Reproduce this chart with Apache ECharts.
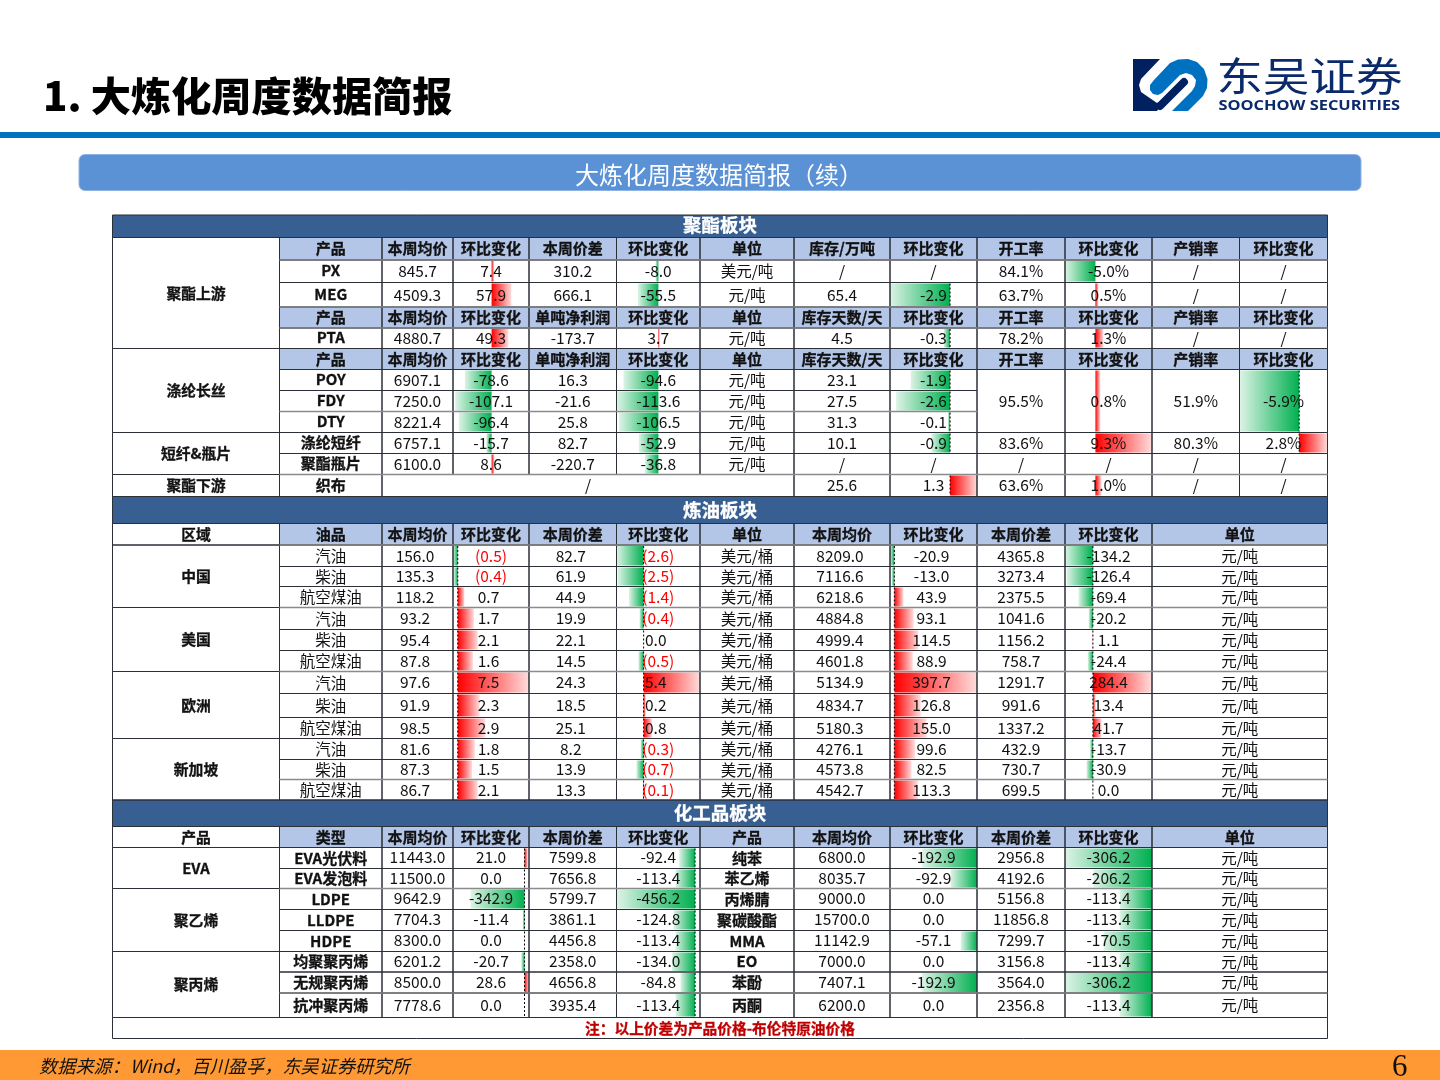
<!DOCTYPE html>
<html>
<head>
<meta charset="utf-8">
<title>大炼化周度数据简报</title>
<script src="https://cdn.jsdelivr.net/npm/echarts@6/dist/echarts.min.js"></script>
<style>
  html, body { margin: 0; padding: 0; background: #fff; }
  #main { width: 1440px; height: 1080px; }
</style>
</head>
<body>
<div id="main"></div>
<script>
// 聚酯板块
var polyProducts = ['PX', 'MEG', 'PTA', 'POY', 'FDY', 'DTY', '涤纶短纤', '聚酯瓶片', '织布'];
var polyPrice = [845.7, 4509.3, 4880.7, 6907.1, 7250.0, 8221.4, 6757.1, 6100.0, null];
var polyPriceChg = [7.4, 57.9, 49.3, -78.6, -107.1, -96.4, -15.7, 8.6, null];
var polySpread = [310.2, 666.1, -173.7, 16.3, -21.6, 25.8, 82.7, -220.7, null];
var polySpreadChg = [-8.0, -55.5, 3.7, -94.6, -113.6, -106.5, -52.9, -36.8, null];
var polyUnit = ['美元/吨', '元/吨', '元/吨', '元/吨', '元/吨', '元/吨', '元/吨', '元/吨', null];
var polyStock = [null, 65.4, 4.5, 23.1, 27.5, 31.3, 10.1, null, 25.6];
var polyStockChg = [null, -2.9, -0.3, -1.9, -2.6, -0.1, -0.9, null, 1.3];
// POY/FDY/DTY 三行合并为一格
var polyRate = [84.1, 63.7, 78.2, 95.5, 83.6, null, 63.6];
var polyRateChg = [-5.0, 0.5, 1.3, 0.8, 9.3, null, 1.0];
var polySell = [null, null, null, 51.9, 80.3, null, null];
var polySellChg = [null, null, null, -5.9, 2.8, null, null];

// 炼油板块
var oilRegions = ['中国', '美国', '欧洲', '新加坡'];
var oilTypes = ['汽油', '柴油', '航空煤油'];
var oilPrice = [156.0, 135.3, 118.2, 93.2, 95.4, 87.8, 97.6, 91.9, 98.5, 81.6, 87.3, 86.7];
var oilPriceChg = [-0.5, -0.4, 0.7, 1.7, 2.1, 1.6, 7.5, 2.3, 2.9, 1.8, 1.5, 2.1];
var oilSpread = [82.7, 61.9, 44.9, 19.9, 22.1, 14.5, 24.3, 18.5, 25.1, 8.2, 13.9, 13.3];
var oilSpreadChg = [-2.6, -2.5, -1.4, -0.4, 0.0, -0.5, 5.4, 0.2, 0.8, -0.3, -0.7, -0.1];
var oilRmb = [8209.0, 7116.6, 6218.6, 4884.8, 4999.4, 4601.8, 5134.9, 4834.7, 5180.3, 4276.1, 4573.8, 4542.7];
var oilRmbChg = [-20.9, -13.0, 43.9, 93.1, 114.5, 88.9, 397.7, 126.8, 155.0, 99.6, 82.5, 113.3];
var oilRmbSpread = [4365.8, 3273.4, 2375.5, 1041.6, 1156.2, 758.7, 1291.7, 991.6, 1337.2, 432.9, 730.7, 699.5];
var oilRmbSpreadChg = [-134.2, -126.4, -69.4, -20.2, 1.1, -24.4, 284.4, 13.4, 41.7, -13.7, -30.9, 0.0];

// 化工品板块
var chemGroups = ['EVA', '聚乙烯', '聚丙烯'];
var chemTypes = ['EVA光伏料', 'EVA发泡料', 'LDPE', 'LLDPE', 'HDPE', '均聚聚丙烯', '无规聚丙烯', '抗冲聚丙烯'];
var chemPrice = [11443.0, 11500.0, 9642.9, 7704.3, 8300.0, 6201.2, 8500.0, 7778.6];
var chemPriceChg = [21.0, 0.0, -342.9, -11.4, 0.0, -20.7, 28.6, 0.0];
var chemSpread = [7599.8, 7656.8, 5799.7, 3861.1, 4456.8, 2358.0, 4656.8, 3935.4];
var chemSpreadChg = [-92.4, -113.4, -456.2, -124.8, -113.4, -134.0, -84.8, -113.4];
var chem2Names = ['纯苯', '苯乙烯', '丙烯腈', '聚碳酸酯', 'MMA', 'EO', '苯酚', '丙酮'];
var chem2Price = [6800.0, 8035.7, 9000.0, 15700.0, 11142.9, 7000.0, 7407.1, 6200.0];
var chem2Chg = [-192.9, -92.9, 0.0, 0.0, -57.1, 0.0, -192.9, 0.0];
var chem2Spread = [2956.8, 4192.6, 5156.8, 11856.8, 7299.7, 3156.8, 3564.0, 2356.8];
var chem2SpreadChg = [-306.2, -206.2, -113.4, -113.4, -170.5, -113.4, -306.2, -113.4];

// 表头
var headPoly1 = ['产品', '本周均价', '环比变化', '本周价差', '环比变化', '单位', '库存/万吨', '环比变化', '开工率', '环比变化', '产销率', '环比变化'];
var headPoly2 = ['产品', '本周均价', '环比变化', '单吨净利润', '环比变化', '单位', '库存天数/天', '环比变化', '开工率', '环比变化', '产销率', '环比变化'];
var headOil = ['油品', '本周均价', '环比变化', '本周价差', '环比变化', '单位', '本周均价', '环比变化', '本周价差', '环比变化', '单位'];
var headChem = ['类型', '本周均价', '环比变化', '本周价差', '环比变化', '产品', '本周均价', '环比变化', '本周价差', '环比变化', '单位'];

// 版式
var colEdges = [112.5, 279.5, 382, 453, 529, 616.5, 700, 794, 890, 977, 1065, 1152, 1239.5, 1327.5];
var rowEdges = [215, 237.5, 260, 282.5, 307, 328, 348.5, 369.5, 390.5, 411.5, 432.5, 453.5, 474.5, 496.5,
  523.5, 545, 566.5, 586.5, 607.5, 629.5, 650.5, 671.5, 693.5, 717.5, 738.5, 759.5, 779.5, 800,
  826.5, 847.5, 868.5, 888.5, 909.5, 930.5, 951.5, 972, 993, 1017.5, 1038.5];
// 灰色横线：[行线序号, 结束列]
var greyRules = [[2, 13], [4, 13], [5, 13], [9, 9], [12, 13], [15, 13], [18, 13], [21, 13], [26, 13], [31, 13], [36, 13]];
var polyRowIdx = [2, 3, 5, 7, 8, 9, 10, 11, 12];
var oilStart = 15;
var chemStart = 29;
var CJK = '"Noto Sans CJK SC",sans-serif';
var BAND = '#385F92';
var HEAD = '#B4C6E7';
var LINE = '#2b2f36';
var SECTOR = { bold: true, size: 14.8 };
var ITEM = { bold: true, size: 15 };

var cells = [];
function addCell(c0, c1, r0, r1, text, opt) {
  cells.push(Object.assign({ c0: c0, c1: c1, r0: r0, r1: r1, text: text }, opt || {}));
}
function fmt(v) {
  return v === null ? '/' : v.toFixed(1);
}
function pct(v) {
  return v === null ? '/' : v.toFixed(1) + '%';
}
function addHead(r, list, from) {
  list.forEach(function (t, i) {
    var c = from + i;
    var last = (list.length === 11 && i === 10);
    addCell(c, last ? c + 2 : c + 1, r, r + 1, t, { fill: HEAD, bold: true, size: 15 });
  });
}
function addBand(r, t, dy) {
  addCell(0, 13, r, r + 1, t, { fill: BAND, bold: true, color: '#fff', size: 18.5, dy: dy || 0 });
}

// ---- 聚酯板块 ----
addBand(0, '聚酯板块', -1);
addCell(0, 1, 1, 6, '聚酯上游', SECTOR);
addCell(0, 1, 6, 10, '涤纶长丝', SECTOR);
addCell(0, 1, 10, 12, '短纤&瓶片', SECTOR);
addCell(0, 1, 12, 13, '聚酯下游', SECTOR);
addHead(1, headPoly1, 1);
addHead(4, headPoly2, 1);
addHead(6, headPoly2, 1);
polyProducts.forEach(function (p, i) {
  var r = polyRowIdx[i];
  addCell(1, 2, r, r + 1, p, { bold: true, size: 15, dy: -0.5 });
  if (i === 8) {
    addCell(2, 7, r, r + 1, '/');
  } else {
    addCell(2, 3, r, r + 1, fmt(polyPrice[i]));
    addCell(3, 4, r, r + 1, fmt(polyPriceChg[i]));
    addCell(4, 5, r, r + 1, fmt(polySpread[i]));
    addCell(5, 6, r, r + 1, fmt(polySpreadChg[i]));
    addCell(6, 7, r, r + 1, polyUnit[i]);
  }
  addCell(7, 8, r, r + 1, fmt(polyStock[i]));
  addCell(8, 9, r, r + 1, fmt(polyStockChg[i]));
});
// 开工率、产销率这几列 POY 到 DTY 合并
var polyRateRows = [[2, 3], [3, 4], [5, 6], [7, 10], [10, 11], [11, 12], [12, 13]];
polyRateRows.forEach(function (rr, i) {
  addCell(9, 10, rr[0], rr[1], pct(polyRate[i]));
  addCell(10, 11, rr[0], rr[1], pct(polyRateChg[i]));
  addCell(11, 12, rr[0], rr[1], pct(polySell[i]));
  addCell(12, 13, rr[0], rr[1], pct(polySellChg[i]));
});

// ---- 炼油板块 ----
addBand(13, '炼油板块');
addCell(0, 1, 14, 15, '区域', SECTOR);
addHead(14, headOil, 1);
oilRegions.forEach(function (name, k) {
  addCell(0, 1, oilStart + k * 3, oilStart + k * 3 + 3, name, SECTOR);
});
oilPrice.forEach(function (v, i) {
  var r = oilStart + i;
  addCell(1, 2, r, r + 1, oilTypes[i % 3], { dy: 0.5 });
  addCell(2, 3, r, r + 1, fmt(v), { dx: -2.5 });
  var a = oilPriceChg[i];
  addCell(3, 4, r, r + 1, a < 0 ? '(' + Math.abs(a).toFixed(1) + ')' : fmt(a), a < 0 ? { color: '#FF0000' } : { dx: -2.5 });
  addCell(4, 5, r, r + 1, fmt(oilSpread[i]), { dx: -2 });
  var b = oilSpreadChg[i];
  addCell(5, 6, r, r + 1, b < 0 ? '(' + Math.abs(b).toFixed(1) + ')' : fmt(b), b < 0 ? { color: '#FF0000' } : { dx: -2.5 });
  addCell(6, 7, r, r + 1, '美元/桶', { dy: 0.5 });
  addCell(7, 8, r, r + 1, fmt(oilRmb[i]), { dx: -2 });
  addCell(8, 9, r, r + 1, fmt(oilRmbChg[i]), { dx: -2 });
  addCell(9, 10, r, r + 1, fmt(oilRmbSpread[i]));
  addCell(10, 11, r, r + 1, fmt(oilRmbSpreadChg[i]));
  addCell(11, 13, r, r + 1, '元/吨', { dy: 0.5 });
});

// ---- 化工品板块 ----
addBand(27, '化工品板块');
addCell(0, 1, 28, 29, '产品', SECTOR);
addHead(28, headChem, 1);
addCell(0, 1, 29, 31, chemGroups[0], SECTOR);
addCell(0, 1, 31, 34, chemGroups[1], SECTOR);
addCell(0, 1, 34, 37, chemGroups[2], SECTOR);
chemPrice.forEach(function (v, i) {
  var r = chemStart + i;
  addCell(1, 2, r, r + 1, chemTypes[i], ITEM);
  addCell(2, 3, r, r + 1, fmt(v), { dy: -0.5 });
  addCell(3, 4, r, r + 1, fmt(chemPriceChg[i]), { dy: -0.5 });
  addCell(4, 5, r, r + 1, fmt(chemSpread[i]), { dy: -0.5 });
  addCell(5, 6, r, r + 1, fmt(chemSpreadChg[i]), { dy: -0.5 });
  addCell(6, 7, r, r + 1, chem2Names[i], ITEM);
  addCell(7, 8, r, r + 1, fmt(chem2Price[i]), { dy: -0.5 });
  addCell(8, 9, r, r + 1, fmt(chem2Chg[i]), { dy: -0.5 });
  addCell(9, 10, r, r + 1, fmt(chem2Spread[i]), { dy: -0.5 });
  addCell(10, 11, r, r + 1, fmt(chem2SpreadChg[i]), { dy: -0.5 });
  addCell(11, 13, r, r + 1, '元/吨');
});
addCell(0, 13, 37, 38, '注：以上价差为产品价格-布伦特原油价格', { bold: true, color: '#C00000', size: 14.7 });

// 数据条：每组一个网格，单元格宽度对应 min 到 max
var barGroups = [
  { col: 3, min: -113.5, max: 110, rows: polyRowIdx, values: polyPriceChg },
  { col: 5, min: -113.6, max: 112.7, rows: polyRowIdx, values: polySpreadChg },
  { col: 8, min: -2.9, max: 1.3, rows: polyRowIdx, values: polyStockChg, dotted: true },
  { col: 10, min: -5.0, max: 9.3, spans: polyRateRows, values: polyRateChg },
  { col: 12, min: -5.9, max: 2.8, spans: polyRateRows, values: polySellChg, dotted: true },
  { col: 3, min: -0.5, max: 7.5, first: oilStart, values: oilPriceChg, dotted: true },
  { col: 5, min: -2.6, max: 5.4, first: oilStart, values: oilSpreadChg, dotted: true },
  { col: 8, min: -20.9, max: 397.7, first: oilStart, values: oilRmbChg, dotted: true },
  { col: 10, min: -134.2, max: 284.4, first: oilStart, values: oilRmbSpreadChg, dotted: true },
  { col: 3, min: -456.2, max: 28.6, first: chemStart, values: chemPriceChg, dotted: true },
  { col: 5, min: -456.2, max: 28.6, first: chemStart, values: chemSpreadChg, dotted: true },
  { col: 8, min: -306.2, max: 0, first: chemStart, values: chem2Chg },
  { col: 10, min: -306.2, max: 0, first: chemStart, values: chem2SpreadChg }
];

function barData(g) {
  var out = [];
  g.values.forEach(function (v, i) {
    if (v === null) return;
    var r0, r1;
    if (g.spans) { r0 = g.spans[i][0]; r1 = g.spans[i][1]; }
    else if (g.rows) { r0 = g.rows[i]; r1 = r0 + 1; }
    else { r0 = g.first + i; r1 = r0 + 1; }
    out.push([v, rowEdges[r0], rowEdges[r1]]);
  });
  return out;
}

function renderBar(dotted) {
  return function (params, api) {
    var v = api.value(0);
    var p0 = api.coord([0, api.value(1)]);
    var p1 = api.coord([v, api.value(2)]);
    var children = [];
    if (v !== 0) {
      var neg = v < 0;
      var stops = neg
        ? [{ offset: 0, color: '#00B050' }, { offset: 1, color: '#DDF3E6' }]
        : [{ offset: 0, color: '#FF0000' }, { offset: 1, color: '#FFDCDC' }];
      children.push({
        type: 'rect',
        shape: { x: Math.min(p0[0], p1[0]), y: p0[1] + 1, width: Math.abs(p1[0] - p0[0]), height: p1[1] - p0[1] - 2 },
        style: { fill: new echarts.graphic.LinearGradient(neg ? 1 : 0, 0, neg ? 0 : 1, 0, stops) }
      });
    }
    if (dotted) {
      children.push({
        type: 'line',
        shape: { x1: p0[0], y1: p0[1] + 1, x2: p0[0], y2: p1[1] - 1 },
        style: { stroke: '#000', lineWidth: 1, lineDash: [2, 2] }
      });
    }
    return { type: 'group', children: children };
  };
}

function cellBox(api, c) {
  var a = api.coord([colEdges[c.c0], rowEdges[c.r0]]);
  var b = api.coord([colEdges[c.c1], rowEdges[c.r1]]);
  return { x: a[0], y: a[1], width: b[0] - a[0], height: b[1] - a[1] };
}

var cellIdx = cells.map(function (c, i) { return [i]; });

var grids = [{ left: 0, top: 0, width: 1440, height: 1080 }];
var xAxes = [{ type: 'value', min: 0, max: 1440, show: false, gridIndex: 0 }];
var yAxes = [{ type: 'value', min: 0, max: 1080, inverse: true, show: false, gridIndex: 0 }];
var series = [
  {
    type: 'custom', z: 1, silent: true, data: cellIdx,
    renderItem: function (params, api) {
      var c = cells[api.value(0)];
      if (!c.fill) return null;
      return { type: 'rect', shape: cellBox(api, c), style: { fill: c.fill } };
    }
  },
  {
    type: 'custom', z: 3, silent: true, data: cellIdx,
    renderItem: function (params, api) {
      var c = cells[api.value(0)];
      return { type: 'rect', shape: cellBox(api, c), style: { fill: 'none', stroke: LINE, lineWidth: 1 } };
    }
  },
  {
    type: 'custom', z: 4, silent: true,
    data: greyRules.map(function (e) { return [rowEdges[e[0]], colEdges[e[1]]]; }),
    renderItem: function (params, api) {
      var a = api.coord([colEdges[1], api.value(0)]);
      var b = api.coord([api.value(1), api.value(0)]);
      return { type: 'line', shape: { x1: a[0], y1: a[1], x2: b[0], y2: b[1] }, style: { stroke: '#8a8a8a', lineWidth: 1.5 } };
    }
  },
  {
    type: 'custom', z: 5, silent: true, data: cellIdx,
    renderItem: function (params, api) {
      var c = cells[api.value(0)];
      var box = cellBox(api, c);
      var color = c.color || '#111';
      return {
        type: 'text',
        style: {
          x: box.x + box.width / 2 + (c.dx || 0),
          y: box.y + box.height / 2 + (c.dy || 0),
          text: c.text,
          fill: color,
          // 原图的粗体更重一些
          stroke: c.bold ? color : null,
          lineWidth: c.bold ? 0.3 : 0,
          fontFamily: CJK,
          fontWeight: c.bold ? 'bold' : 'normal',
          fontSize: c.size || 15.5,
          align: 'center',
          verticalAlign: 'middle'
        }
      };
    }
  }
];

barGroups.forEach(function (g) {
  var idx = grids.length;
  grids.push({ left: colEdges[g.col], top: 0, width: colEdges[g.col + 1] - colEdges[g.col], height: 1080 });
  xAxes.push({ type: 'value', min: g.min, max: g.max, show: false, gridIndex: idx });
  yAxes.push({ type: 'value', min: 0, max: 1080, inverse: true, show: false, gridIndex: idx });
  series.push({
    type: 'custom', z: 2, silent: true, clip: false,
    xAxisIndex: idx, yAxisIndex: idx,
    encode: { x: 0, y: 1 },
    data: barData(g),
    renderItem: renderBar(g.dotted)
  });
});

// 页面外框：标题、横幅、徽标、页脚
var logoNavy = [[1133, 59], [1160, 59], [1141, 79], [1139, 85], [1141, 92], [1157, 103], [1167, 97], [1157, 111], [1133, 111]];
var logoBlue = [[1154, 80], [1170, 63], [1178, 59.5], [1188, 59], [1197, 62], [1204, 69], [1207.5, 79], [1207, 88], [1203, 96], [1188, 111], [1172, 111],
  [1192, 91], [1195, 86], [1196, 80], [1192, 75], [1186, 73], [1180, 75], [1162, 93], [1158, 95], [1153, 94], [1150, 90], [1150, 85]];
var pageGraphic = [
  { type: 'text', z: 10, style: { x: 43, y: 96, text: '1. 大炼化周度数据简报', fontFamily: CJK, fontWeight: 900, fontSize: 40.2, fill: '#000', verticalAlign: 'middle' } },
  { type: 'rect', z: 1, shape: { x: 0, y: 132, width: 1440, height: 6 }, style: { fill: '#0070C0' } },
  { type: 'rect', z: 1, shape: { x: 79, y: 154.5, width: 1282, height: 36, r: 6 }, style: { fill: '#5B91D5', stroke: '#8FB3E3', lineWidth: 1 } },
  { type: 'text', z: 10, style: { x: 719, y: 175, text: '大炼化周度数据简报（续）', fontFamily: CJK, fontWeight: 400, fontSize: 24, fill: '#fff', align: 'center', verticalAlign: 'middle' } },
  // 徽标
  { type: 'polygon', z: 2, shape: { points: logoNavy }, style: { fill: '#002060' } },
  { type: 'line', z: 3, shape: { x1: 1160, y1: 106, x2: 1184, y2: 82 }, style: { stroke: '#002060', lineWidth: 8, lineCap: 'round' } },
  { type: 'polygon', z: 4, shape: { points: logoBlue }, style: { fill: '#0070C0' } },
  { type: 'text', z: 10, x: 1216.5, y: 75.5, scaleY: 0.86, style: { x: 0, y: 0, text: '东吴证券', fontFamily: CJK, fontWeight: 400, fontSize: 46.5, fill: '#0B2A6B', verticalAlign: 'middle' } },
  { type: 'text', z: 10, x: 1218.5, y: 105.5, scaleX: 1.13, style: { x: 0, y: 0, text: 'SOOCHOW SECURITIES', fontFamily: '"Open Sans",sans-serif', fontWeight: 700, fontSize: 14.5, fill: '#0B2A6B', verticalAlign: 'middle' } },
  // 页脚
  { type: 'rect', z: 1, shape: { x: 0, y: 1050, width: 1440, height: 30 }, style: { fill: '#FF9933' } },
  { type: 'text', z: 10, style: { x: 39, y: 1066, text: '数据来源：Wind，百川盈孚，东吴证券研究所', fontFamily: CJK, fontStyle: 'italic', fontSize: 18.2, fill: '#111', verticalAlign: 'middle' } },
  { type: 'text', z: 10, style: { x: 1392, y: 1068, text: '6', fontFamily: '"Liberation Serif",serif', fontSize: 31, fill: '#111', verticalAlign: 'middle' } }
];

var chart = echarts.init(document.getElementById('main'));
chart.setOption({
  animation: false,
  backgroundColor: '#fff',
  grid: grids,
  xAxis: xAxes,
  yAxis: yAxes,
  graphic: pageGraphic,
  series: series
});
</script>
</body>
</html>
